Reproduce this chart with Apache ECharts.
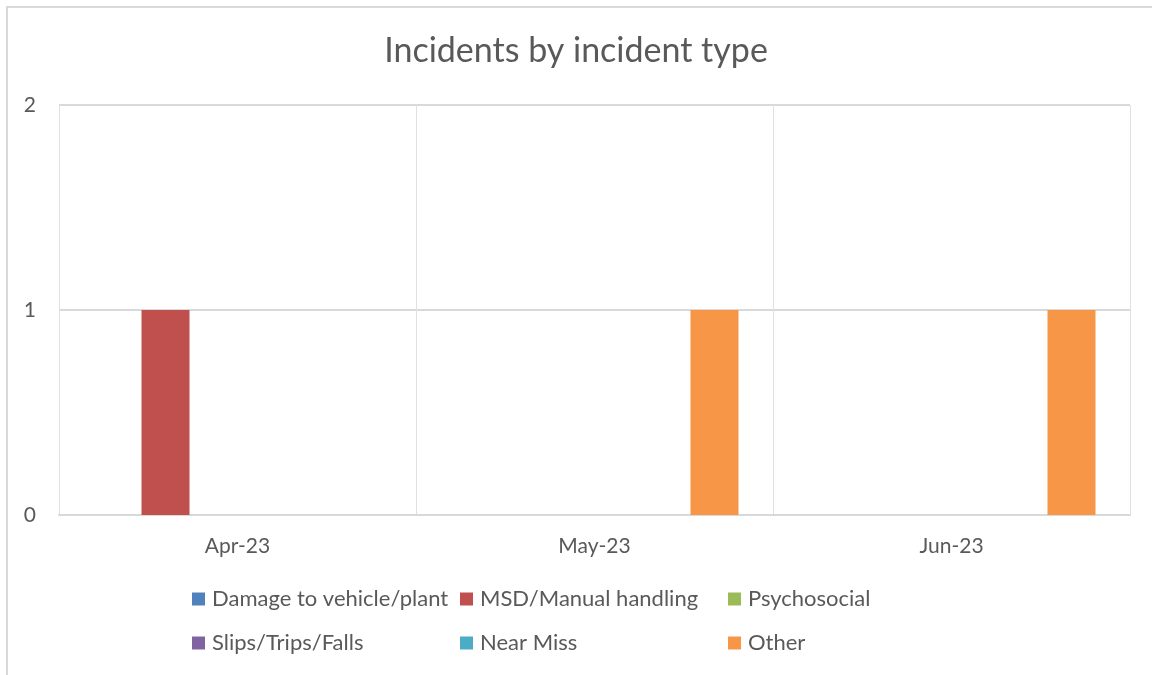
<!DOCTYPE html>
<html>
<head>
<meta charset="utf-8">
<script src="https://cdn.jsdelivr.net/npm/echarts@6/dist/echarts.min.js"></script>
<style>
  html, body { margin: 0; padding: 0; background: #fff; }
  #chart { width: 1152px; height: 675px; }
</style>
</head>
<body>
<div id="chart"></div>
<script>
const months = ["Apr-23", "May-23", "Jun-23"];
const seriesNames = ["Damage to vehicle/plant", "MSD/Manual handling", "Psychosocial", "Slips/Trips/Falls", "Near Miss", "Other"];
const damage = [0, 0, 0];
const msd = [1, 0, 0];
const psychosocial = [0, 0, 0];
const slips = [0, 0, 0];
const nearMiss = [0, 0, 0];
const other = [0, 1, 1];
const yTicks = [0, 1, 2];

const colors = ["#4F81BD", "#C0504D", "#9BBB59", "#8064A2", "#4BACC6", "#F79646"];
const values = [damage, msd, psychosocial, slips, nearMiss, other];
const font = "Lato, 'Open Sans', sans-serif";
const textColor = "#595959";

let chart = echarts.init(document.getElementById("chart"));

// legend in 3 columns, 2 rows like the excel one
let legendCols = [[0, 3], [1, 4], [2, 5]];
let legendLeft = [192, 460, 728];
let legends = legendCols.map((col, i) => ({
  orient: "vertical",
  left: legendLeft[i],
  top: 588,
  padding: 0,
  itemGap: 22,
  itemWidth: 13,
  itemHeight: 13,
  icon: "rect",
  selectedMode: false,
  textStyle: { color: textColor, fontSize: 22, fontFamily: font, padding: [0, 0, 0, 2] },
  data: col.map(k => seriesNames[k])
}));

let option = {
  animation: false,
  color: colors,
  title: {
    text: "Incidents by incident type",
    left: "center",
    top: 29,
    textStyle: { color: textColor, fontSize: 34, fontWeight: "normal", fontFamily: font }
  },
  graphic: [{
    type: "rect",
    shape: { x: 7, y: 7, width: 1200, height: 700 },
    style: { fill: "none", stroke: "#d9d9d9", lineWidth: 2 },
    silent: true
  }],
  legend: legends,
  grid: { left: 59, right: 22, top: 105, bottom: 160 },
  xAxis: {
    type: "category",
    data: months,
    axisLine: { lineStyle: { color: "#d9d9d9", width: 2 } },
    axisTick: { show: false },
    splitLine: { show: true, lineStyle: { color: "#e0e0e0", width: 1 } },
    axisLabel: { color: textColor, fontSize: 21, fontFamily: font, margin: 21 }
  },
  yAxis: {
    type: "value",
    min: yTicks[0],
    max: yTicks[yTicks.length - 1],
    interval: 1,
    axisLine: { show: false },
    axisTick: { show: false },
    splitLine: { lineStyle: { color: "#d9d9d9", width: 2 } },
    axisLabel: { color: textColor, fontSize: 21, fontFamily: font, margin: 23 }
  },
  series: seriesNames.map((name, i) => ({
    name: name,
    type: "bar",
    data: values[i],
    barGap: "0%",
    barCategoryGap: "19.33%"
  }))
};
chart.setOption(option);
</script>
</body>
</html>
